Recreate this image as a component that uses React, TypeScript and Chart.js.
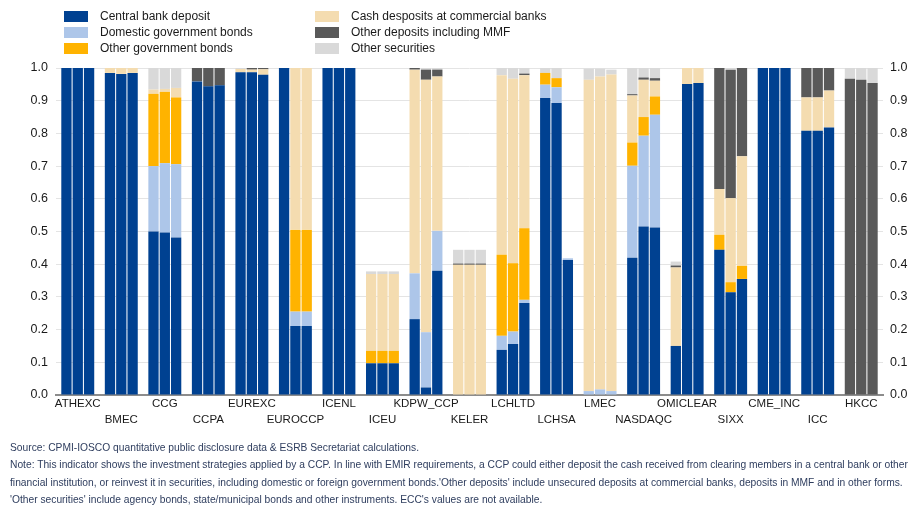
import React, { useEffect, useRef } from 'react';
import { Chart, registerables } from 'chart.js';

Chart.register(...registerables);

// CCPs (x-axis categories)
const categories = [
  'ATHEXC', 'BMEC', 'CCG', 'CCPA', 'EUREXC', 'EUROCCP', 'ICENL', 'ICEU', 'KDPW_CCP', 'KELER',
  'LCHLTD', 'LCHSA', 'LMEC', 'NASDAQC', 'OMICLEAR', 'SIXX', 'CME_INC', 'ICC', 'HKCC',
];

// three observations (bars) per CCP
const periods = ['Period 1', 'Period 2', 'Period 3'];

// shares per CCP: [bar1, bar2, bar3]
const centralBankDeposit = [
  [1, 1, 1], [0.985, 0.982, 0.985], [0.5, 0.497, 0.482], [0.959, 0.944, 0.947], [0.987, 0.987, 0.979],
  [1, 0.211, 0.211], [1, 1, 1], [0.097, 0.097, 0.097], [0.232, 0.023, 0.38], [0, 0, 0],
  [0.138, 0.156, 0.281], [0.908, 0.893, 0.413], [0, 0, 0], [0.42, 0.515, 0.512], [0.15, 0.951, 0.954],
  [0.444, 0.314, 0.355], [1, 1, 1], [0.808, 0.808, 0.818], [0, 0, 0],
];
const domesticGovBonds = [
  [0, 0, 0], [0, 0, 0], [0.2, 0.212, 0.224], [0, 0, 0], [0, 0, 0],
  [0, 0.044, 0.044], [0, 0, 0], [0, 0, 0], [0.14, 0.169, 0.122], [0, 0, 0],
  [0.043, 0.038, 0.01], [0.041, 0.048, 0.005], [0.012, 0.017, 0.012], [0.281, 0.278, 0.345], [0, 0, 0],
  [0, 0, 0], [0, 0, 0], [0, 0, 0], [0, 0, 0],
];
const otherGovBonds = [
  [0, 0, 0], [0, 0, 0], [0.221, 0.218, 0.204], [0, 0, 0], [0, 0, 0],
  [0, 0.25, 0.25], [0, 0, 0], [0.038, 0.038, 0.038], [0, 0, 0], [0, 0, 0],
  [0.248, 0.209, 0.219], [0.036, 0.028, 0], [0, 0, 0], [0.071, 0.057, 0.056], [0, 0, 0],
  [0.046, 0.031, 0.04], [0, 0, 0], [0, 0, 0], [0, 0, 0],
];
const cashDepositsCommercial = [
  [0, 0, 0], [0.015, 0.018, 0.015], [0.013, 0.009, 0.029], [0, 0, 0], [0.01, 0.008, 0.017],
  [0, 0.495, 0.495], [0, 0, 0], [0.235, 0.235, 0.235], [0.623, 0.772, 0.472], [0.398, 0.398, 0.398],
  [0.549, 0.564, 0.468], [0, 0, 0], [0.952, 0.957, 0.968], [0.144, 0.114, 0.048], [0.24, 0.049, 0.046],
  [0.14, 0.257, 0.335], [0, 0, 0], [0.102, 0.102, 0.113], [0, 0, 0],
];
const otherDepositsMMF = [
  [0, 0, 0], [0, 0, 0], [0, 0, 0], [0.041, 0.056, 0.053], [0, 0.005, 0.004],
  [0, 0, 0], [0, 0, 0], [0, 0, 0], [0.005, 0.031, 0.021], [0.004, 0.004, 0.004],
  [0, 0, 0.005], [0, 0, 0], [0, 0, 0], [0.004, 0.007, 0.008], [0.006, 0, 0],
  [0.37, 0.393, 0.27], [0, 0, 0], [0.09, 0.09, 0.069], [0.967, 0.964, 0.954],
];
const otherSecurities = [
  [0, 0, 0], [0, 0, 0], [0.066, 0.064, 0.061], [0, 0, 0], [0.003, 0, 0],
  [0, 0, 0], [0, 0, 0], [0.008, 0.008, 0.008], [0, 0.005, 0.005], [0.042, 0.042, 0.042],
  [0.022, 0.033, 0.017], [0.015, 0.031, 0], [0.034, 0.024, 0.015], [0.08, 0.029, 0.031], [0.012, 0, 0],
  [0, 0.005, 0], [0, 0, 0], [0, 0, 0], [0.033, 0.036, 0.046],
];

const yTicks = [0, 0.1, 0.2, 0.3, 0.4, 0.5, 0.6, 0.7, 0.8, 0.9, 1.0];

const series = [
  { name: 'Central bank deposit', values: centralBankDeposit, color: '#004191' },
  { name: 'Domestic government bonds', values: domesticGovBonds, color: '#adc6e9' },
  { name: 'Other government bonds', values: otherGovBonds, color: '#ffb300' },
  { name: 'Cash desposits at commercial banks', values: cashDepositsCommercial, color: '#f4dcb0' },
  { name: 'Other deposits including MMF', values: otherDepositsMMF, color: '#595959' },
  { name: 'Other securities', values: otherSecurities, color: '#d9d9d9' },
];

const legendColumns = [[0, 1, 2], [3, 4, 5]];

const footnotes = [
  'Source: CPMI-IOSCO quantitative public disclosure data & ESRB Secretariat calculations.',
  'Note: This indicator shows the investment strategies applied by a CCP. In line with EMIR requirements, a CCP could either deposit the cash received from clearing members in a central bank or other',
  "financial institution, or reinvest it in securities, including domestic or foreign government bonds.'Other deposits' include unsecured deposits at commercial banks, deposits in MMF and in other forms.",
  "'Other securities' include agency bonds, state/municipal bonds and other instruments. ECC's values are not available.",
];

const FONT = "'Liberation Sans', Arial, sans-serif";

export default function App() {
  const canvasRef = useRef<HTMLCanvasElement | null>(null);

  useEffect(() => {
    if (!canvasRef.current) return;
    const datasets: any[] = [];
    periods.forEach((p, pi) => {
      series.forEach((s) => {
        datasets.push({
          label: s.name,
          data: s.values.map((t) => t[pi]),
          backgroundColor: s.color,
          borderWidth: 0,
          stack: p,
          barPercentage: 0.91,
          categoryPercentage: 0.78,
        });
      });
    });

    const tickFont = { family: FONT, size: 12.5 };
    const chart = new Chart(canvasRef.current, {
      type: 'bar',
      data: { labels: categories, datasets },
      options: {
        animation: false,
        responsive: true,
        maintainAspectRatio: false,
        layout: { padding: { top: 68, bottom: 5, left: 0, right: 0 } },
        plugins: { legend: { display: false }, tooltip: { enabled: false } },
        scales: {
          x: {
            stacked: true,
            grid: { display: false, drawTicks: false },
            border: { display: true, color: '#8c8c8c', width: 2 },
            ticks: {
              autoSkip: false,
              maxRotation: 0,
              minRotation: 0,
              padding: 1,
              color: '#1a1a1a',
              font: { family: FONT, size: 11.5, lineHeight: 1.4 },
              callback: (_v: any, i: number) => (i % 2 === 0 ? categories[i] : ['', categories[i]]),
            },
            afterFit: (s: any) => { s.height = 40; },
          },
          y: {
            stacked: true,
            position: 'left',
            min: 0,
            max: 1,
            grid: { color: '#e4e4e4', drawTicks: false, lineWidth: 1 },
            border: { display: false },
            afterBuildTicks: (s: any) => { s.ticks = yTicks.map((v) => ({ value: v })); },
            ticks: {
              padding: 8,
              color: '#1a1a1a',
              font: tickFont,
              callback: (v: any) => Number(v).toFixed(1),
            },
            afterFit: (s: any) => { s.width = 56; },
          },
          y2: {
            position: 'right',
            min: 0,
            max: 1,
            grid: { display: false, drawTicks: false },
            border: { display: false },
            afterBuildTicks: (s: any) => { s.ticks = yTicks.map((v) => ({ value: v })); },
            ticks: {
              padding: 7,
              color: '#1a1a1a',
              font: tickFont,
              callback: (v: any) => Number(v).toFixed(1),
            },
            afterFit: (s: any) => { s.width = 28; },
          },
        },
      } as any,
    });
    return () => chart.destroy();
  }, []);

  return (
    <div style={{ position: 'absolute', left: 0, top: 0, width: 911, height: 507, background: '#fff', fontFamily: FONT, overflow: 'hidden' }}>
      <div style={{ position: 'absolute', left: 0, top: 0, width: 911, height: 440 }}>
        <canvas ref={canvasRef} />
      </div>
      {legendColumns.map((col, ci) => (
        <div key={ci} style={{ position: 'absolute', top: 8, left: ci === 0 ? 64 : 315 }}>
          {col.map((si) => (
            <div key={si} style={{ display: 'flex', alignItems: 'center', height: 16 }}>
              <span style={{ display: 'inline-block', width: 24, height: 11, background: series[si].color }} />
              <span style={{ marginLeft: 12, fontSize: 12, color: '#1a1a1a', whiteSpace: 'nowrap' }}>{series[si].name}</span>
            </div>
          ))}
        </div>
      ))}
      <div style={{ position: 'absolute', left: 10, top: 439, fontSize: 10.25, lineHeight: '17.3px', color: '#2e3d5e' }}>
        {footnotes.map((f, i) => (
          <div key={i} style={{ whiteSpace: 'nowrap' }}>{f}</div>
        ))}
      </div>
    </div>
  );
}
